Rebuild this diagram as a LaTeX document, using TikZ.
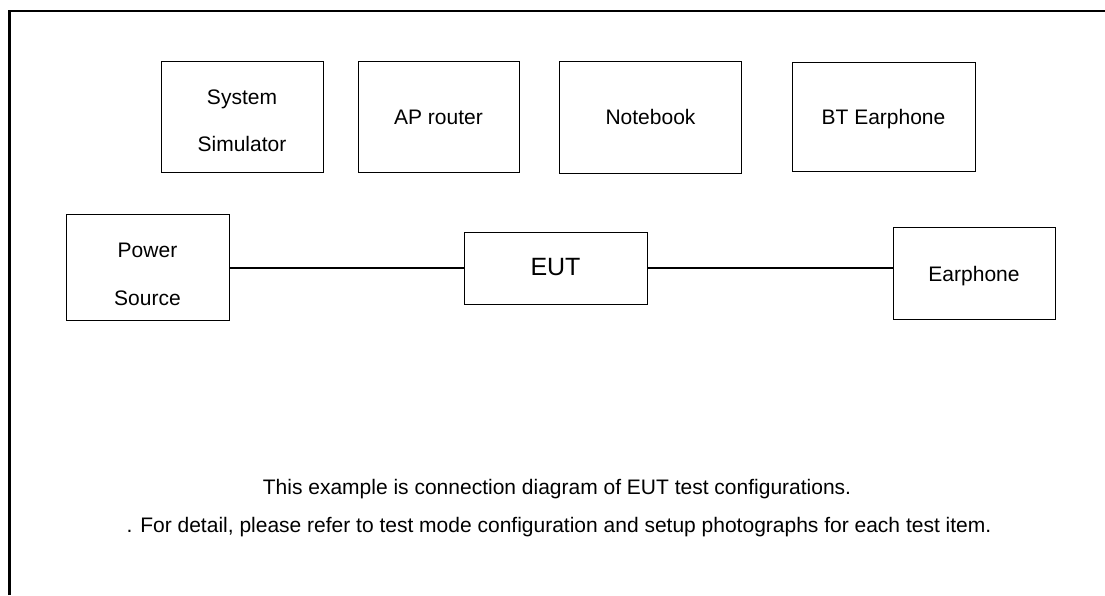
\documentclass[tikz,border=0pt]{standalone}
\usepackage{fontspec}
\setmainfont{Liberation Sans}
\begin{document}
\begin{tikzpicture}[x=1pt,y=-1pt,
  box/.style={draw=black, line width=1pt, rectangle, inner sep=0pt},
  lbl/.style={anchor=base, inner sep=0pt, font=\fontsize{21}{25}\selectfont},
  biglbl/.style={anchor=base, inner sep=0pt, font=\fontsize{25}{30}\selectfont},
  wire/.style={draw=black, line width=1.4pt},
  frame/.style={draw=black, line width=2.2pt}]
\useasboundingbox (0,0) rectangle (1105,595);
\draw[frame] (9.5,595) -- (9.5,11) -- (1105,11);

% boxes
\node[box, minimum width=162pt, minimum height=111pt] (sim) at (242,116.5) {};
\node[box, minimum width=161pt, minimum height=111pt] (ap) at (438.5,116.5) {};
\node[box, minimum width=182pt, minimum height=112pt] (nb) at (650,117) {};
\node[box, minimum width=183pt, minimum height=109pt] (bt) at (883.5,116.5) {};
\node[box, minimum width=163pt, minimum height=106pt] (ps) at (147.5,267) {};
\node[box, minimum width=183pt, minimum height=72pt] (eut) at (555.5,268) {};
\node[box, minimum width=162pt, minimum height=92pt] (ear) at (974,273) {};

% labels
\node[lbl] (simA) at (242,104) {System};
\node[lbl] (simB) at (242,151) {Simulator};
\node[lbl] (apL) at (438.5,124) {AP router};
\node[lbl] (nbL) at (650.5,124) {Notebook};
\node[lbl] (btL) at (883.5,124) {BT Earphone};
\node[lbl] (psA) at (147.5,257) {Power};
\node[lbl] (psB) at (147.5,305) {Source};
\node[biglbl] (eutL) at (555.5,275) {EUT};
\node[lbl] (earL) at (974,281) {Earphone};

% connectors
\draw[wire] (eut.west) -- (eut.west -| ps.east);
\draw[wire] (eut.east) -- (eut.east -| ear.west);

% notes
\node[lbl] (note1) at (557,494) {This example is connection diagram of EUT test configurations.};
\node[lbl] (note2) at (559,532) {. For detail, please refer to test mode configuration and setup photographs for each test item.};
\end{tikzpicture}
\end{document}
